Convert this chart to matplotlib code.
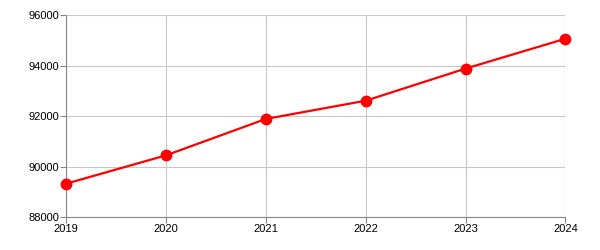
import matplotlib
matplotlib.use("Agg")
import matplotlib.pyplot as plt

years = [2019, 2020, 2021, 2022, 2023, 2024]
values = [89330, 90450, 91890, 92610, 93880, 95060]
y_ticks = [88000, 90000, 92000, 94000, 96000]

plt.rcParams['font.family'] = ['Liberation Sans', 'DejaVu Sans']

fig = plt.figure(figsize=(6, 2.5), dpi=100)
ax = fig.add_axes([0.1105, 0.131, 0.8317, 0.809])

ax.plot(years, values, color='#ff0000', linewidth=1.6, marker='o',
        markersize=7.5, zorder=3, clip_on=False)

ax.set_xlim(2019, 2024)
ax.set_ylim(88000, 96000)
ax.set_xticks(years)
ax.set_yticks(y_ticks)
ax.set_xticklabels([str(y) for y in years])
ax.set_yticklabels([str(v) for v in y_ticks])

ax.grid(True, color='#c8c8c8', linewidth=0.8)
ax.set_axisbelow(True)
for side in ['top', 'right']:
    ax.spines[side].set_visible(False)
for side in ['left', 'bottom']:
    ax.spines[side].set_color('#888888')
    ax.spines[side].set_linewidth(0.8)
ax.tick_params(axis='both', colors='#888888', labelcolor='black',
               labelsize=8, length=4, width=0.8, pad=1)

fig.savefig('out.png', dpi=100)
